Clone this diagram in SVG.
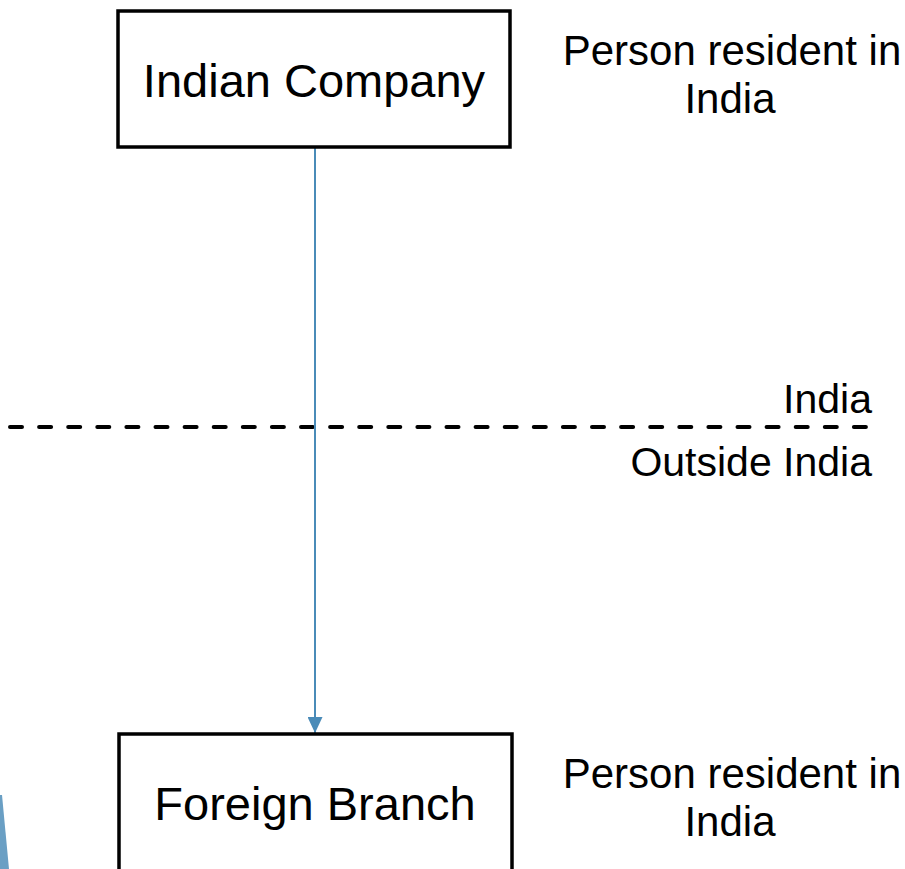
<svg xmlns="http://www.w3.org/2000/svg" width="905" height="869" viewBox="0 0 905 869">
<style>
.box{fill:#fff;stroke:#000;stroke-width:3.5}
.t{font-family:"Liberation Sans",Arial,sans-serif;fill:#000}
.big{font-size:47px;text-anchor:middle}
.lbl{font-size:42px;text-anchor:middle}
.side{font-size:41px;text-anchor:end}
</style>
<defs>
<marker id="arr" markerWidth="16" markerHeight="15" refX="16" refY="7.5" orient="auto" markerUnits="userSpaceOnUse">
<path d="M0,0 L16,7.5 L0,15 Z" fill="#4A8BB8"/>
</marker>
</defs>
<rect width="905" height="869" fill="#fff"/>
<g id="boundary">
<line x1="10" y1="427" x2="866" y2="427" stroke="#000" stroke-width="4" stroke-linecap="round" stroke-dasharray="12 17.1"/>
<text class="t side" x="872" y="413">India</text>
<text class="t side" x="872" y="476">Outside India</text>
</g>
<g id="connectors">
<line x1="315" y1="147" x2="315" y2="733" stroke="#4A8BB8" stroke-width="2" marker-end="url(#arr)"/>
</g>
<g id="indian-company">
<rect class="box" x="118" y="11" width="392" height="136"/>
<text class="t big" x="314" y="97">Indian Company</text>
</g>
<g id="label-top">
<text class="t lbl" x="732" y="65">Person resident in</text>
<text class="t lbl" x="730" y="113">India</text>
</g>
<g id="foreign-branch">
<rect class="box" x="119" y="734" width="393" height="150"/>
<text class="t big" x="315" y="820">Foreign Branch</text>
</g>
<g id="label-bottom">
<text class="t lbl" x="732" y="788">Person resident in</text>
<text class="t lbl" x="730" y="836">India</text>
</g>
<polygon id="wedge" points="0,795 2,795 9,869 0,869" fill="#6A9FC4"/>
</svg>
